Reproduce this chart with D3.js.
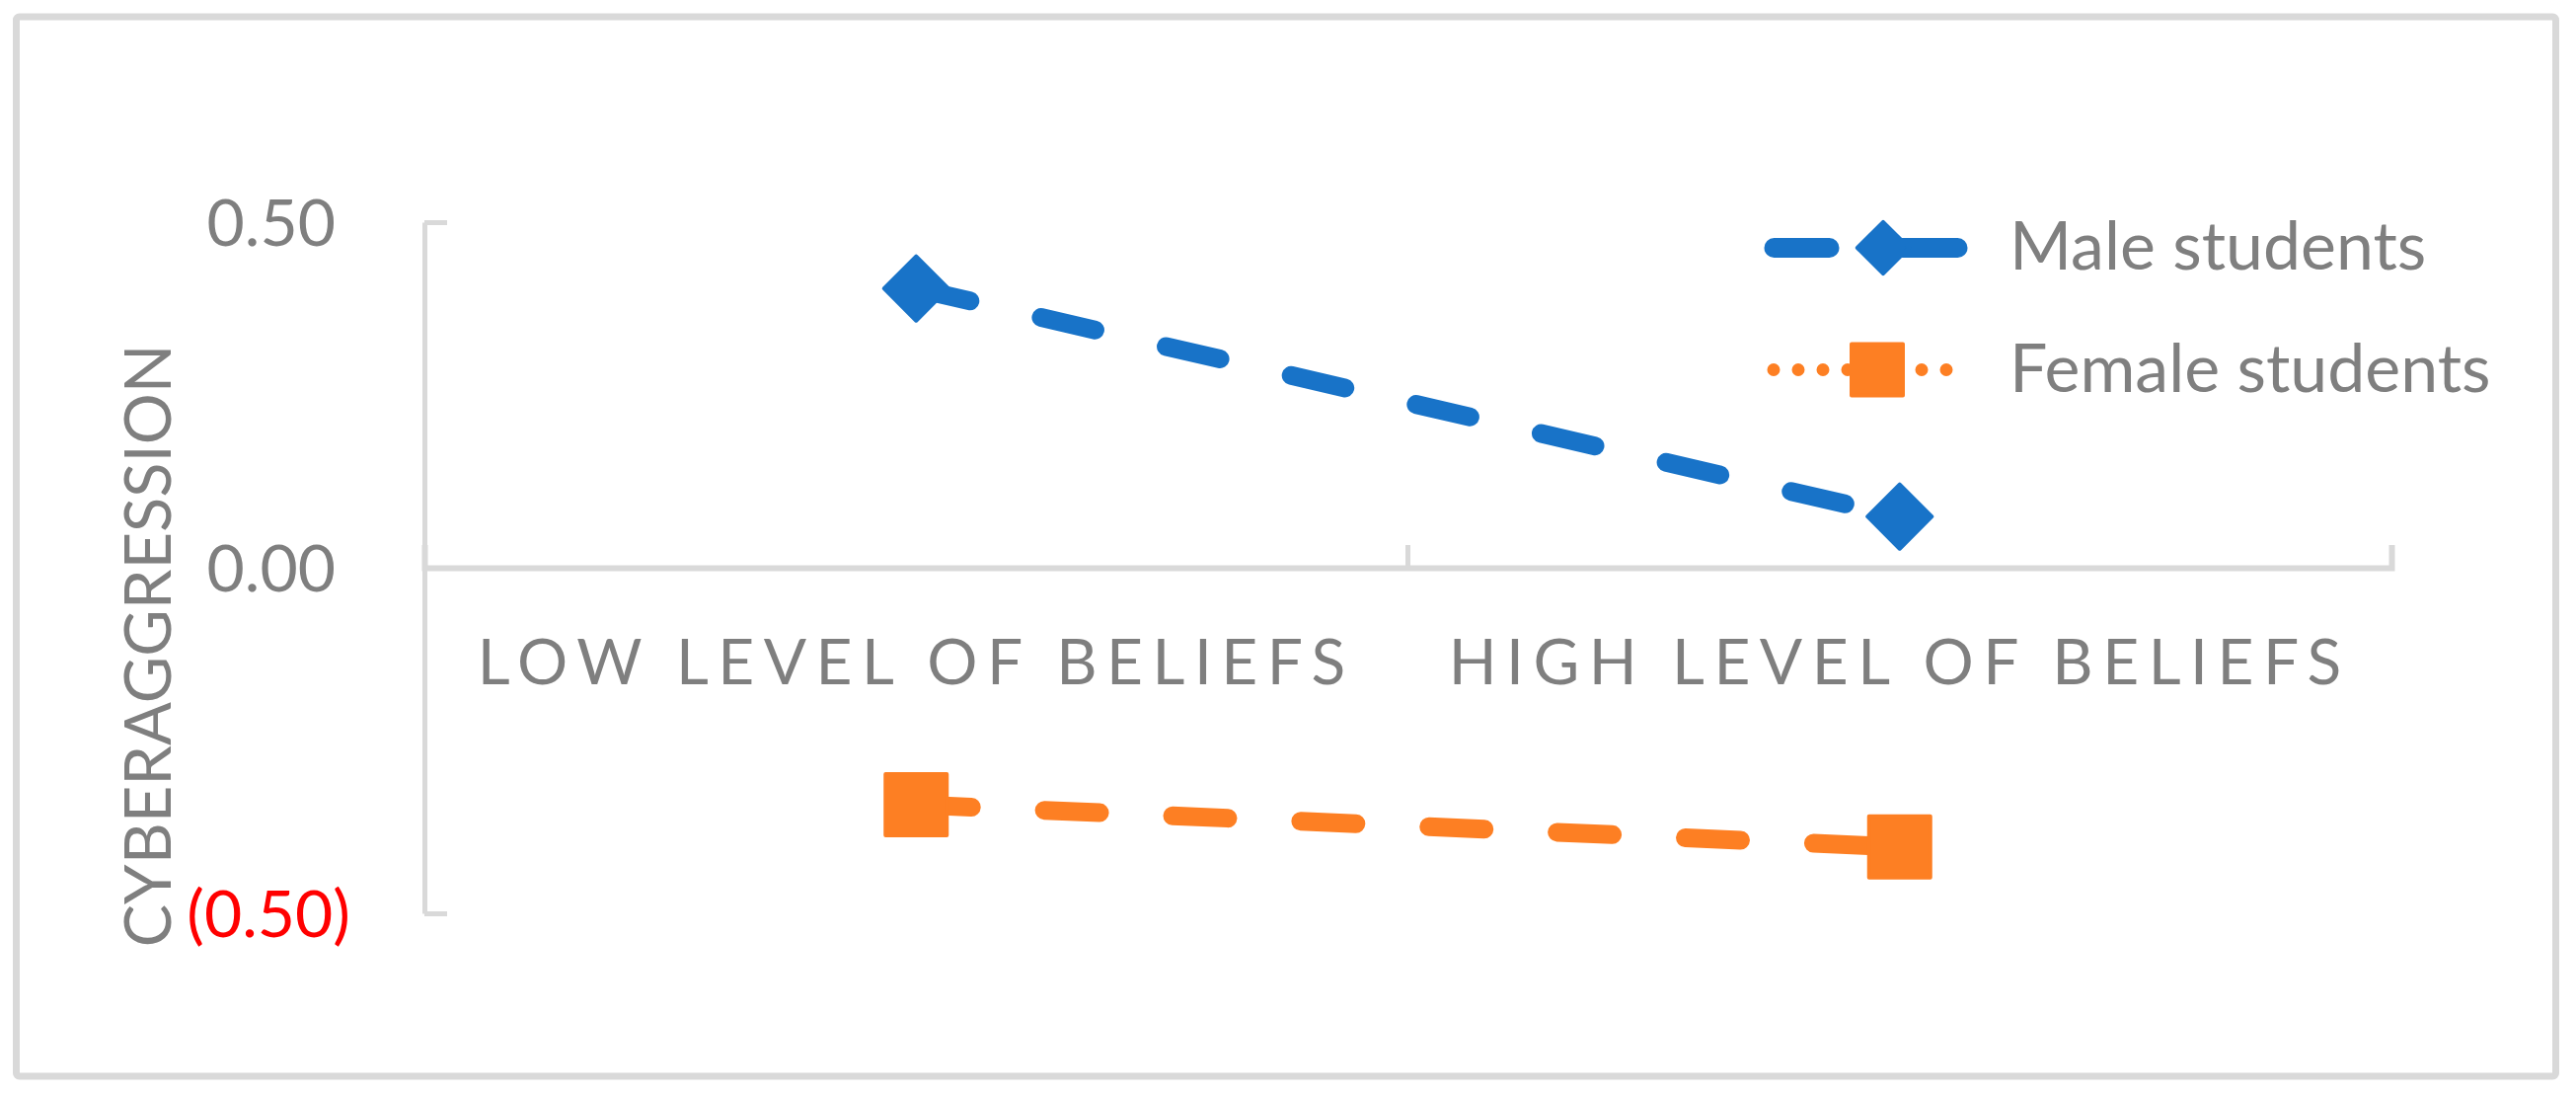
<!DOCTYPE html>
<html>
<head>
<meta charset="utf-8">
<script src="https://cdn.jsdelivr.net/npm/d3@7"></script>
<style>
  body { margin: 0; background: #fff; }
  text { font-family: Lato, "Open Sans", sans-serif; fill: #7f7f7f; }
</style>
</head>
<body>
<svg id="chart"></svg>
<script>
// data
var categories = ["LOW LEVEL OF BELIEFS", "HIGH LEVEL OF BELIEFS"];
var seriesNames = ["Male students", "Female students"];
var maleValues = [0.404, 0.074];
var femaleValues = [-0.343, -0.404];
var yTicks = [-0.5, 0, 0.5];
var yTitle = "CYBERAGGRESSION";

var svgWidth = 2610, svgHeight = 1109;
var blue = "#1873c8", orange = "#fd7f23", grid = "#d9d9d9";

var svg = d3.select("#chart")
    .attr("width", svgWidth)
    .attr("height", svgHeight);

// chart border
svg.append("rect")
    .attr("x", 16.5).attr("y", 17)
    .attr("width", 2573).attr("height", 1073)
    .attr("rx", 3)
    .style("fill", "#fff")
    .style("stroke", grid)
    .style("stroke-width", 7);

var x = d3.scaleBand()
    .domain(categories)
    .range([430, 2423]);

var y = d3.scaleLinear()
    .domain([-0.5, 0.5])
    .range([925, 225]);

// y axis
var fmt = d3.format(".2f");
var y_axis = d3.axisLeft(y)
    .tickValues(yTicks)
    .tickSize(-23)
    .tickSizeOuter(0)
    .tickPadding(90)
    .tickFormat(function(d) { return d < 0 ? "(" + fmt(-d) + ")" : fmt(d); });

var gy = svg.append("g")
    .attr("transform", "translate(430,0)")
    .call(y_axis);
gy.select(".domain").style("stroke", grid).style("stroke-width", 5);
gy.selectAll(".tick line").style("stroke", grid).style("stroke-width", 5);
gy.selectAll(".tick text")
    .attr("dx", function(d) { return d < 0 ? 15 : 0; })
    .attr("dy", "0.36em")
    .style("font-size", "66px")
    .style("fill", function(d) { return d < 0 ? "#ff0000" : "#7f7f7f"; });

// x axis at zero
var x_axis = d3.axisBottom(x)
    .tickSize(0)
    .tickSizeOuter(-23)
    .tickPadding(0);

var gx = svg.append("g")
    .attr("transform", "translate(0," + y(0) + ")")
    .call(x_axis);
gx.select(".domain").style("stroke", grid).style("stroke-width", 6);
gx.selectAll(".tick text")
    .attr("y", 118)
    .attr("dy", 0)
    .style("font-size", "64px")
    .style("letter-spacing", "9.5px");

// ticks between categories
gx.selectAll(".sep")
    .data(categories.slice(1))
    .enter()
    .append("line")
    .attr("class", "sep")
    .attr("x1", function(d) { return x(d); })
    .attr("x2", function(d) { return x(d); })
    .attr("y1", 0)
    .attr("y2", -23)
    .style("stroke", grid)
    .style("stroke-width", 5);

// y title
svg.append("text")
    .attr("transform", "translate(173,654) rotate(-90)")
    .attr("text-anchor", "middle")
    .style("font-size", "65px")
    .text(yTitle);

// series
var series = [
    { name: seriesNames[0], values: maleValues, color: blue, marker: "diamond" },
    { name: seriesNames[1], values: femaleValues, color: orange, marker: "square" }
];

var line = d3.line()
    .x(function(d, i) { return x(categories[i]) + x.bandwidth() / 2; })
    .y(function(d) { return y(d); });

svg.selectAll(".series-line")
    .data(series)
    .enter()
    .append("path")
    .attr("class", "series-line")
    .attr("d", function(s) { return line(s.values); })
    .style("fill", "none")
    .style("stroke", function(s) { return s.color; })
    .style("stroke-width", 19)
    .style("stroke-linecap", "round")
    .style("stroke-dasharray", "56 74");

var diamond = d3.symbol(d3.symbolSquare, 46 * 46)();
var square = d3.symbol(d3.symbolSquare, 62 * 62)();

series.forEach(function(s) {
    svg.append("g")
        .selectAll("path")
        .data(s.values)
        .enter()
        .append("path")
        .attr("d", s.marker === "diamond" ? diamond : square)
        .attr("transform", function(d, i) {
            var t = "translate(" + (x(categories[i]) + x.bandwidth() / 2) + "," + y(d) + ")";
            return s.marker === "diamond" ? t + " rotate(45)" : t;
        })
        .style("fill", s.color)
        .style("stroke", s.color)
        .style("stroke-width", 4)
        .style("stroke-linejoin", "round");
});

// legend
var legend = svg.append("g").attr("transform", "translate(1788,251)");
var rows = legend.selectAll("g")
    .data(series)
    .enter()
    .append("g")
    .attr("transform", function(d, i) { return "translate(0," + (i * 123.5) + ")"; });

rows.append("line")
    .attr("x1", function(s) { return s.marker === "diamond" ? 9.5 : 9; })
    .attr("x2", function(s) { return s.marker === "diamond" ? 196.5 : 209; })
    .attr("y1", 0).attr("y2", 0)
    .style("stroke", function(s) { return s.color; })
    .style("stroke-width", function(s) { return s.marker === "diamond" ? 20 : 13; })
    .style("stroke-linecap", "round")
    .style("stroke-dasharray", function(s) { return s.marker === "diamond" ? "56 74" : "0 25"; });

rows.append("path")
    .attr("d", function(s) {
        return s.marker === "diamond" ? d3.symbol(d3.symbolSquare, 37 * 37)() : d3.symbol(d3.symbolSquare, 52 * 52)();
    })
    .attr("transform", function(s) {
        return s.marker === "diamond" ? "translate(120,0) rotate(45)" : "translate(114,0)";
    })
    .style("fill", function(s) { return s.color; })
    .style("stroke", function(s) { return s.color; })
    .style("stroke-width", 4)
    .style("stroke-linejoin", "round");

rows.append("text")
    .attr("x", 248)
    .attr("y", 22)
    .style("font-size", "68px")
    .text(function(s) { return s.name; });
</script>
</body>
</html>
